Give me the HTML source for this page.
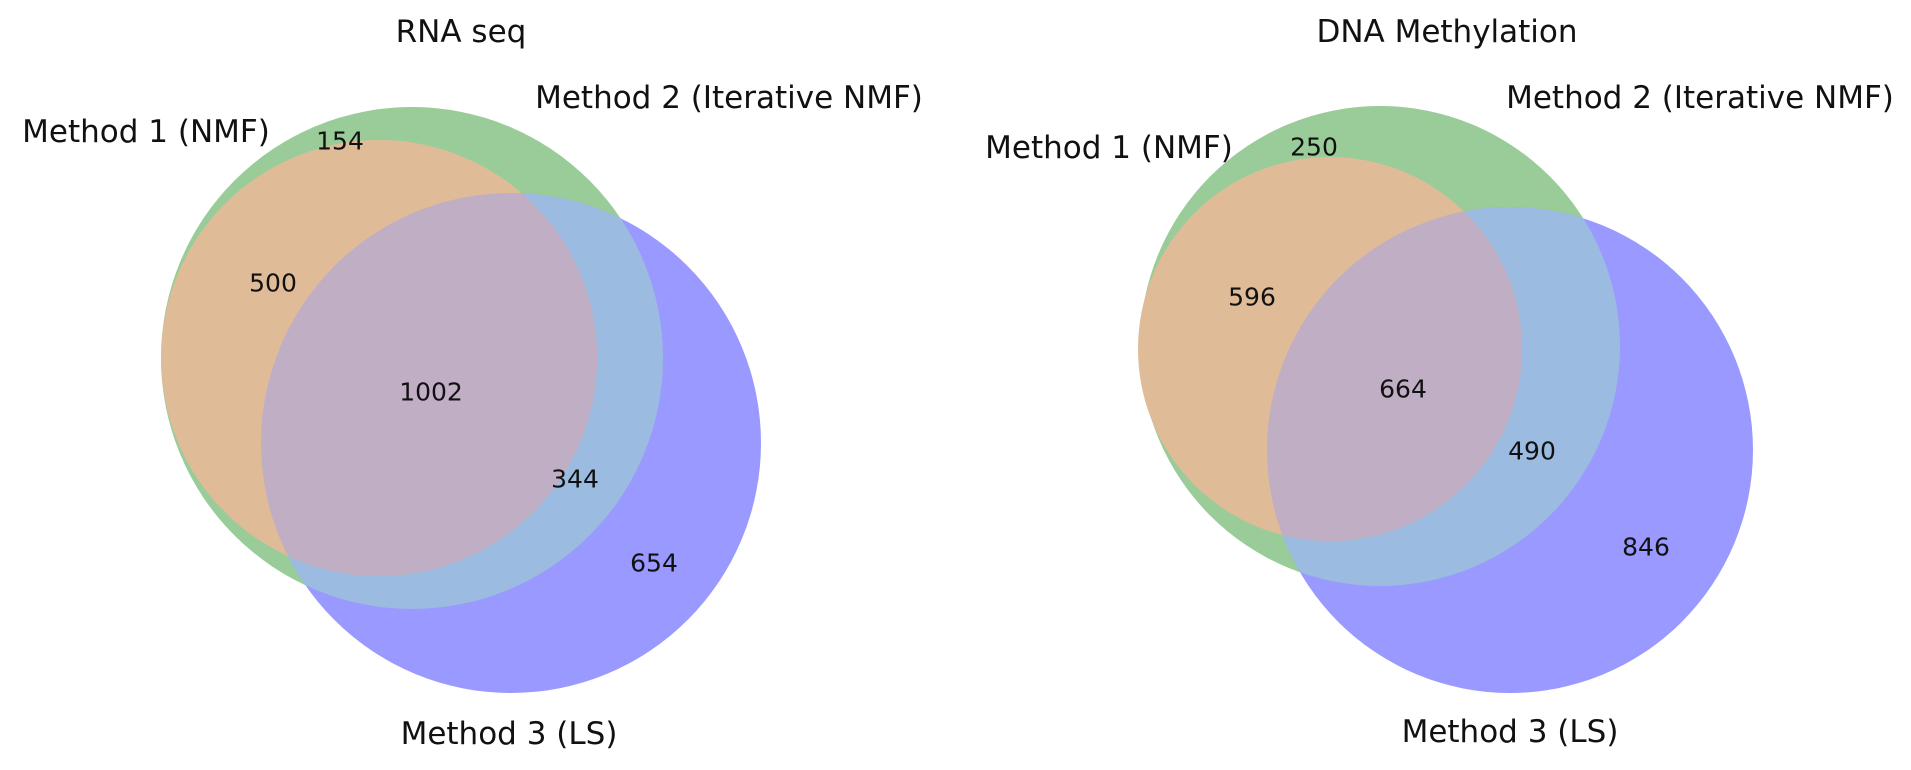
<!DOCTYPE html>
<html><head><meta charset="utf-8"><style>
html,body{margin:0;padding:0;background:#fff;}
svg{display:block;}
text{font-family:"DejaVu Sans","Liberation Sans",sans-serif;fill:#111;}
</style></head><body>
<svg id="chart" width="1911" height="770" viewBox="0 0 1911 770" xmlns="http://www.w3.org/2000/svg"></svg>
<script>
const panelTitles = ["RNA seq", "DNA Methylation"];
const setNames = ["Method 1 (NMF)", "Method 2 (Iterative NMF)", "Method 3 (LS)"];
const rnaCounts = [500, 154, 1002, 344, 654];
const dnaCounts = [596, 250, 664, 490, 846];
const regionNames = ["only-m1-m2", "only-m2", "all-three", "m2-m3", "only-m3"];

const NS = "http://www.w3.org/2000/svg";
const svg = document.getElementById('chart');
function mk(tag, attrs, parent){const e=document.createElementNS(NS,tag);for(const k in attrs)e.setAttribute(k,attrs[k]);(parent||svg).appendChild(e);return e;}

const layouts = [
  {g:[412,358,251], o:[379,358,218], b:[511,443,250], title:[461,32],
   l1:[146,132], l2:[729,98], l3:[509,734],
   pos:[[273,283],[340,141],[431,392],[575,479],[654,563]]},
  {g:[1380,346,240], o:[1330,349,192], b:[1510,450,243], title:[1447,32],
   l1:[1109,148], l2:[1700,98], l3:[1510,732],
   pos:[[1252,297],[1314,147],[1403,389],[1532,451],[1646,547]]}
];
const countsList = [rnaCounts, dnaCounts];
const defs = mk('defs',{});
layouts.forEach((L,i)=>{
  const p = 'p'+i;
  const cpB = mk('clipPath',{id:p+'clipB'},defs);
  mk('circle',{cx:L.b[0],cy:L.b[1],r:L.b[2]},cpB);
  const g = mk('g',{});
  
  
  const c2 = mk('circle',{cx:L.g[0],cy:L.g[1],r:L.g[2],fill:'#99cc99'},g);
  
  
  const c3 = mk('circle',{cx:L.b[0],cy:L.b[1],r:L.b[2],fill:'#9999ff'},g);
  
  
  const gb = mk('circle',{cx:L.g[0],cy:L.g[1],r:L.g[2],fill:'#9bbbe0','clip-path':'url(#'+p+'clipB)'},g);
  
  
  const c1 = mk('circle',{cx:L.o[0],cy:L.o[1],r:L.o[2],fill:'#e0bb98'},g);
  
  
  const ob = mk('circle',{cx:L.o[0],cy:L.o[1],r:L.o[2],fill:'#c0aec4','clip-path':'url(#'+p+'clipB)'},g);
  
  
  const t = mk('text',{x:L.title[0],y:L.title[1],'font-size':31,'text-anchor':'middle','dominant-baseline':'central'},g);
  t.textContent = panelTitles[i];
  
  
  [L.l1,L.l2,L.l3].forEach((q,j)=>{
    const s = mk('text',{x:q[0],y:q[1],'font-size':31,'text-anchor':'middle','dominant-baseline':'central'},g);
    s.textContent = setNames[j];
    
    
  });
  countsList[i].forEach((v,k)=>{
    const s = mk('text',{x:L.pos[k][0],y:L.pos[k][1],'font-size':25,'text-anchor':'middle','dominant-baseline':'central'},g);
    s.textContent = v;
    
    
  });
});
</script>
</body></html>
